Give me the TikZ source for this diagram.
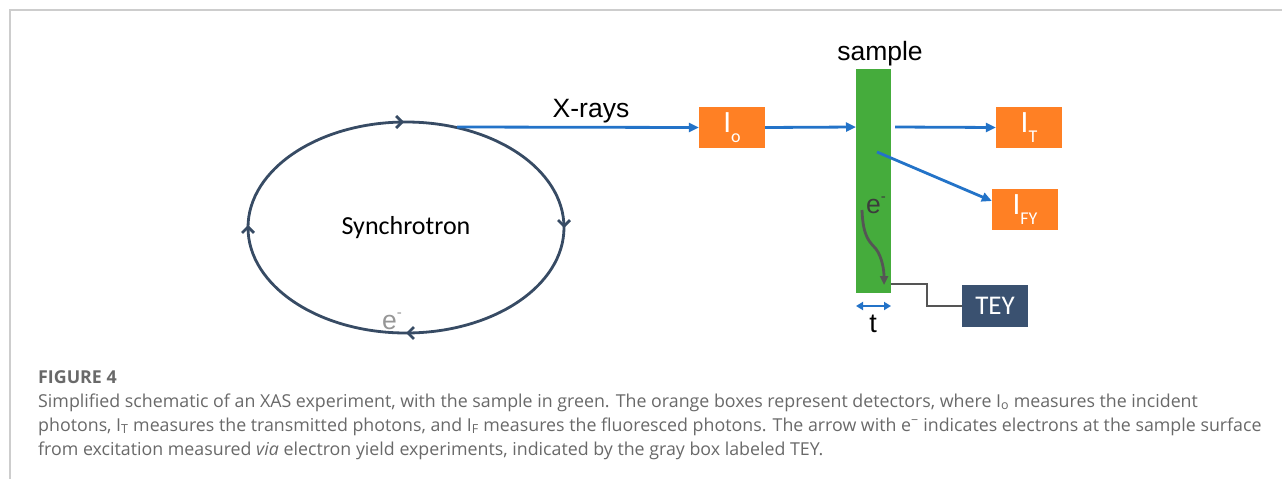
\documentclass[tikz,border=0pt]{standalone}
\usepackage{fontspec}
\setmainfont{Liberation Sans}
\newfontfamily\calfont{Carlito}
\newfontfamily\capfont{Open Sans}
\usetikzlibrary{arrows.meta}
\definecolor{ringc}{RGB}{55,75,100}
\definecolor{beamc}{RGB}{35,115,200}
\definecolor{detc}{RGB}{255,128,36}
\definecolor{samplec}{RGB}{69,172,60}
\definecolor{teyc}{RGB}{58,81,112}
\definecolor{wirec}{RGB}{85,85,85}
\definecolor{framec}{RGB}{205,205,205}
\definecolor{capc}{RGB}{105,105,105}
\tikzset{
  beam/.style={draw=beamc, line width=2.8pt, -{Triangle[length=10pt,width=9pt]}},
  ringtip/.style={draw=ringc, line width=2.8pt, -{Straight Barb[length=6pt,width=12pt]}},
  detbox/.style={fill=detc, draw=none, minimum width=66pt, minimum height=41pt, inner sep=0pt,
    text=white, font=\calfont\fontsize{31}{31}\selectfont},
  lbl/.style={inner sep=0pt, font=\fontsize{26.5}{26.5}\selectfont},
  capline/.style={anchor=base west, inner sep=0pt, text=capc, font=\capfont\fontsize{17.8}{20}\selectfont}
}
\newcommand{\subsc}[1]{\raisebox{-0.3em}{\fontsize{18}{18}\selectfont #1}}
\newcommand{\emin}{\raisebox{0.45em}{\fontsize{15}{15}\selectfont -}}
\begin{document}
\begin{tikzpicture}[x=1pt,y=-1pt]
\useasboundingbox (0,0) rectangle (1282,479);
\fill[white] (0,0) rectangle (1282,479);
% frame
\draw[framec, line width=2pt] (10,479) -- (10,10) -- (1282,10);
% synchrotron ring
\coordinate (ring) at (406,227.5);
\draw[ringc, line width=2.8pt] (ring) ellipse [x radius=158, y radius=105.5];
\coordinate (tA) at (397,122); \coordinate (tB) at (404,122);
\coordinate (rA) at (564,221); \coordinate (rB) at (564,228);
\coordinate (bA) at (413,333); \coordinate (bB) at (406,333);
\coordinate (lA) at (248,232); \coordinate (lB) at (248,225);
\draw[ringtip] (tA) -- (tB);
\draw[ringtip] (rA) -- (rB);
\draw[ringtip] (bA) -- (bB);
\draw[ringtip] (lA) -- (lB);
\node[inner sep=0pt, font=\calfont\fontsize{26}{26}\selectfont] (synl) at (406,228) {Synchrotron};
\node[lbl, text={rgb,255:red,150;green,150;blue,150}] (ering) at (392,321) {e\emin};
% detectors and sample
\node[detbox] (io) at (732,127.5) {I\subsc{o}};
\node[detbox] (it) at (1029,127.5) {I\subsc{T}};
\node[detbox] (ify) at (1025,209.5) {I\subsc{FY}};
\node[fill=samplec, draw=none, minimum width=35pt, minimum height=224pt, inner sep=0pt] (smp) at (873.5,181) {};
\node[lbl, anchor=base] (sampl) at (880,60) {sample};
\node[fill=teyc, draw=none, minimum width=66pt, minimum height=42pt, inner sep=0pt, text=white,
  font=\calfont\fontsize{27}{27}\selectfont] (tey) at (995,306) {TEY};
% beams
\coordinate (src) at (457,127);
\draw[beam] (src) -- (io.west);
\node[lbl] (xr) at (591,111) {X-rays};
\coordinate (smpin) at (856,127);
\draw[beam] (io.east) -- (smpin);
\coordinate (smpout) at (895,127);
\draw[beam] (smpout) -- (it.west);
\coordinate (fyout) at (877,152);
\draw[beam] (fyout) -- (ify.west |- 0,201) ;
% electrons
\node[lbl, text={rgb,255:red,60;green,60;blue,60}] (einner) at (876,205) {e\emin};
\coordinate (es) at (862,210);
\coordinate (ee) at (884,285);
\draw[wirec, line width=2.8pt, -{Triangle[length=9pt,width=8pt]}] (es) .. controls (863,238) and (870,242) .. (876,249) .. controls (882,257) and (884,270) .. (ee);
\coordinate (w0) at (891,284);
\coordinate (w1) at (927,284);
\coordinate (w2) at (927,306);
\draw[wirec, line width=2.8pt] (w0) -- (w1) -- (w2) -- (tey.west);
% thickness
\coordinate (t1) at (856,306);
\coordinate (t2) at (891,306);
\draw[beamc, line width=2pt, {Triangle[length=7pt,width=8pt]}-{Triangle[length=7pt,width=8pt]}] (t1) -- (t2);
\node[lbl, font=\fontsize{27}{27}\selectfont] (tl) at (873,324) {t};
% caption
\node[capline, font=\capfont\bfseries\fontsize{17.8}{20}\selectfont] (fig) at (38,383) {FIGURE 4};
\node[capline] (c1) at (38,407) {Simplified schematic of an XAS experiment, with the sample in green. The orange boxes represent detectors, where I\textsubscript{o} measures the incident};
\node[capline] (c2) at (38,431) {photons, I\textsubscript{T} measures the transmitted photons, and I\textsubscript{F} measures the fluoresced photons. The arrow with e\textsuperscript{\char"2212} indicates electrons at the sample surface};
\node[capline] (c3) at (38,455) {from excitation measured \textit{via} electron yield experiments, indicated by the gray box labeled TEY.};
\end{tikzpicture}
\end{document}
